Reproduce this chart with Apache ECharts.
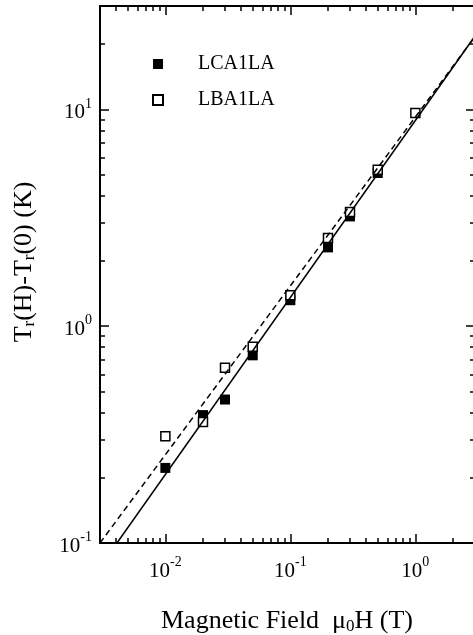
<!DOCTYPE html>
<html><head><meta charset="utf-8">
<script src="https://cdn.jsdelivr.net/npm/echarts@6/dist/echarts.min.js"></script>
<style>html,body{margin:0;padding:0;background:#fff;}#c{width:473px;height:635px;}</style>
</head><body><div id="c"></div>
<script>
const FONT = '"Liberation Serif","DejaVu Serif","Times New Roman",serif';

// data
const fieldLCA = [0.01, 0.02, 0.03, 0.05, 0.1, 0.2, 0.3, 0.5];
const deltaLCA = [0.222, 0.389, 0.459, 0.734, 1.318, 2.31, 3.21, 5.09];
const fieldLBA = [0.01, 0.02, 0.03, 0.05, 0.1, 0.2, 0.3, 0.5, 1];
const deltaLBA = [0.311, 0.362, 0.643, 0.804, 1.39, 2.55, 3.36, 5.27, 9.62];
// fitted power-law lines (end points)
const fitLCAx = [0.0041, 3];
const fitLCAy = [0.1, 21.8];
const fitLBAx = [0.003, 3];
const fitLBAy = [0.1, 21.7];

// ticks
const xMajor = [0.01, 0.1, 1];
const xMinor = [0.004, 0.005, 0.006, 0.007, 0.008, 0.009,
                0.02, 0.03, 0.04, 0.05, 0.06, 0.07, 0.08, 0.09,
                0.2, 0.3, 0.4, 0.5, 0.6, 0.7, 0.8, 0.9, 2];
const yMajor = [0.1, 1, 10];
const yMinor = [0.2, 0.3, 0.4, 0.5, 0.6, 0.7, 0.8, 0.9,
                2, 3, 4, 5, 6, 7, 8, 9, 20];
const seriesNames = ['LCA1LA', 'LBA1LA'];

const zip = (a, b) => a.map((v, i) => [v, b[i]]);
const pow10Label = v => '{b|10}{s|' + Math.round(Math.log10(v)) + '}';
const labelRich = {
  b: {fontSize: 21, fontFamily: FONT, color: '#000'},
  s: {fontSize: 14, fontFamily: FONT, color: '#000', padding: [0, 0, 18, 0]}
};

function axis(kind, pos, ticks, len, withLine, withLabel) {
  const isX = kind === 'x';
  return {
    type: 'log', logBase: 10,
    min: isX ? 0.003 : 0.1, max: isX ? 3 : 30,
    position: pos,
    gridIndex: 0,
    axisLine: {show: withLine, onZero: false, lineStyle: {color: '#000', width: 2}},
    axisTick: {show: true, inside: true, length: len, customValues: ticks,
               lineStyle: {color: '#000', width: 1.5}},
    minorTick: {show: false},
    splitLine: {show: false},
    axisLabel: withLabel ? {
      show: true, customValues: ticks, formatter: pow10Label, rich: labelRich,
      margin: isX ? 12 : 8, color: '#000',
      padding: isX ? 0 : [7, 0, 0, 0]
    } : {show: false}
  };
}

const chart = echarts.init(document.getElementById('c'), null, {renderer: 'canvas'});
chart.setOption({
  animation: false,
  backgroundColor: '#fff',
  grid: {left: 100, top: 6, width: 375, height: 537, containLabel: false, outerBoundsMode: 'none'},
  xAxis: [
    axis('x', 'bottom', xMajor, 9, true, true),
    axis('x', 'bottom', xMinor, 5, false, false),
    axis('x', 'top', xMajor, 9, true, false),
    axis('x', 'top', xMinor, 5, false, false)
  ],
  yAxis: [
    axis('y', 'left', yMajor, 9, true, true),
    axis('y', 'left', yMinor, 5, false, false),
    axis('y', 'right', yMajor, 9, true, false),
    axis('y', 'right', yMinor, 5, false, false)
  ],
  legend: {
    data: seriesNames, orient: 'vertical', left: 152, top: 54, padding: 0,
    itemWidth: 10, itemHeight: 10, itemGap: 16, selectedMode: false,
    textStyle: {fontFamily: FONT, fontSize: 20, color: '#000', padding: [0, 0, 0, 30]}
  },
  graphic: [
    {
      type: 'text', x: 24, y: 262, rotation: Math.PI / 2, silent: true,
      style: {
        text: '{n|T}{sub|r}{n|(H)-T}{sub|r}{n|(0) (K)}',
        align: 'center', verticalAlign: 'middle', fill: '#000',
        rich: {
          n: {fontSize: 26, fontFamily: FONT, fill: '#000'},
          sub: {fontSize: 17, fontFamily: FONT, fill: '#000', padding: [12, 0, 0, 0]}
        }
      }
    },
    {
      type: 'text', x: 287, y: 621, silent: true,
      style: {
        text: '{n|Magnetic Field  μ}{sub|0}{n|H (T)}',
        align: 'center', verticalAlign: 'middle', fill: '#000',
        rich: {
          n: {fontSize: 26, fontFamily: FONT, fill: '#000'},
          sub: {fontSize: 17, fontFamily: FONT, fill: '#000', padding: [12, 0, 0, 0]}
        }
      }
    }
  ],
  series: [
    {
      name: seriesNames[0], type: 'scatter', xAxisIndex: 0, yAxisIndex: 0,
      symbol: 'rect', symbolSize: 10, z: 2,
      itemStyle: {color: '#000', opacity: 1},
      data: zip(fieldLCA, deltaLCA)
    },
    {
      name: seriesNames[1], type: 'scatter', xAxisIndex: 0, yAxisIndex: 0,
      symbol: 'rect', symbolSize: 9, z: 3,
      itemStyle: {color: '#fff', borderColor: '#000', borderWidth: 1.5, opacity: 1},
      data: zip(fieldLBA, deltaLBA)
    },
    {
      name: 'fitLCA', type: 'line', xAxisIndex: 0, yAxisIndex: 0, z: 4,
      symbol: 'none', clip: true,
      lineStyle: {color: '#000', width: 1.5, type: 'solid'},
      data: zip(fitLCAx, fitLCAy)
    },
    {
      name: 'fitLBA', type: 'line', xAxisIndex: 0, yAxisIndex: 0, z: 4,
      symbol: 'none', clip: true,
      lineStyle: {color: '#000', width: 1.5, type: [6, 4]},
      data: zip(fitLBAx, fitLBAy)
    }
  ]
});
</script>
</body></html>
